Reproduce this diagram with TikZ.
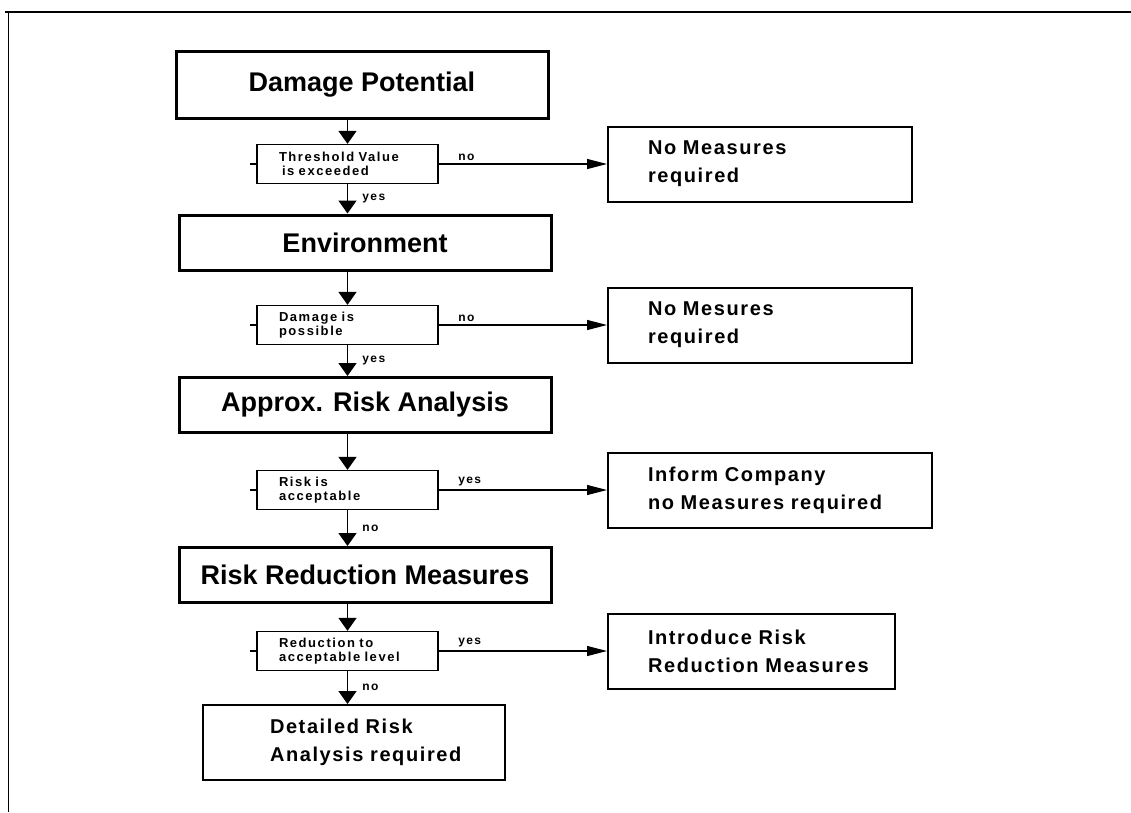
\documentclass[tikz,border=0pt]{standalone}
\usepackage{fontspec}
\setmainfont{Liberation Sans}
\newfontfamily\decfont[LetterSpace=12]{Liberation Sans}
\newfontfamily\resfont[LetterSpace=8]{Liberation Sans}
\usepackage{tikz}
\usetikzlibrary{arrows.meta, positioning}
\tikzset{
  mainbox/.style={rectangle, draw=black, line width=3pt, minimum width=372pt,
                  minimum height=55pt, align=center, font=\fontsize{27}{32}\selectfont\bfseries},
  decision/.style={rectangle, draw=black, line width=1.3pt, text width=137pt, inner xsep=22pt,
                   minimum height=39pt, align=left, font=\decfont\fontsize{13}{14}\selectfont\bfseries},
  resultbox/.style={rectangle, draw=black, line width=2pt, inner xsep=40pt,
                    minimum height=75pt, align=left, font=\resfont\fontsize{20}{28}\selectfont\bfseries},
  down/.style={-{Triangle[length=13pt, width=18pt]}, line width=1.6pt},
  side/.style={-{Triangle[length=20pt, width=10pt]}, line width=1.2pt},
  lbl/.style={font=\decfont\fontsize{12}{13}\selectfont\bfseries, inner sep=1pt},
}

\begin{document}
\begin{tikzpicture}[x=1pt, y=-1pt]
  \useasboundingbox (0,0) rectangle (1131,812);

  % --- Frame ---
  \draw[line width=1.5pt] (5,12) -- (1131,12);
  \draw[line width=1pt] (8,12) -- (8,812);

  % --- Damage potential ---
  \node[mainbox, minimum height=67pt] (dampot) at (362,84.5) {Damage Potential};
  \node[decision] (thresh) at (347.5,164) {Threshold Value\\\hspace{3pt}is exceeded};
  \node[resultbox, text width=224pt] (nomeas1) at (760,164) {No Measures\\required};

  % --- Environment ---
  \node[mainbox] (envir) at (365,242.5) {Environment};
  \node[decision] (dampos) at (347.5,325) {Damage is\\possible};
  \node[resultbox, text width=224pt] (nomeas2) at (760,325) {No Mesures\\required};

  % --- Approx. risk analysis ---
  \node[mainbox] (approx) at (365,405) {Approx. Risk Analysis};
  \node[decision] (riskacc) at (347.5,490) {Risk is\\acceptable};
  \node[resultbox, text width=244pt] (inform) at (770,490) {Inform Company\\\mbox{no Measures required}};

  % --- Risk reduction ---
  \node[mainbox] (riskred) at (365,575) {Risk Reduction Measures};
  \node[decision] (redlev) at (347.5,651) {Reduction to\\acceptable level};
  \node[resultbox, text width=207pt] (introduce) at (751.5,651) {Introduce Risk\\\mbox{Reduction Measures}};

  % --- Final box ---
  \node[resultbox, text width=168pt, inner xsep=67pt] (detailed) at (354,742.5)
        {Detailed Risk\\\mbox{Analysis required}};

  % --- Ticks on the decisions ---
  \foreach \d in {thresh, dampos, riskacc, redlev}
    \draw[line width=1.2pt] (\d.west) -- ++(-6,0);

  % --- Arrows ---
  \draw[down] (dampot.south -| thresh.north) -- (thresh.north);
  \draw[down] (thresh.south) -- (envir.north -| thresh.south) node[lbl, right=13pt, midway] {yes};
  \draw[side] (thresh.east) -- (nomeas1.west) node[lbl, pos=0, anchor=south west, xshift=18pt, yshift=2pt] {no};

  \draw[down] (envir.south -| dampos.north) -- (dampos.north);
  \draw[down] (dampos.south) -- (approx.north -| dampos.south) node[lbl, right=13pt, midway] {yes};
  \draw[side] (dampos.east) -- (nomeas2.west) node[lbl, pos=0, anchor=south west, xshift=18pt, yshift=2pt] {no};

  \draw[down] (approx.south -| riskacc.north) -- (riskacc.north);
  \draw[down] (riskacc.south) -- (riskred.north -| riskacc.south) node[lbl, right=13pt, midway] {no};
  \draw[side] (riskacc.east) -- (inform.west) node[lbl, pos=0, anchor=south west, xshift=18pt, yshift=2pt] {yes};

  \draw[down] (riskred.south -| redlev.north) -- (redlev.north);
  \draw[down] (redlev.south) -- (detailed.north -| redlev.south) node[lbl, right=13pt, midway] {no};
  \draw[side] (redlev.east) -- (introduce.west) node[lbl, pos=0, anchor=south west, xshift=18pt, yshift=2pt] {yes};

\end{tikzpicture}
\end{document}
